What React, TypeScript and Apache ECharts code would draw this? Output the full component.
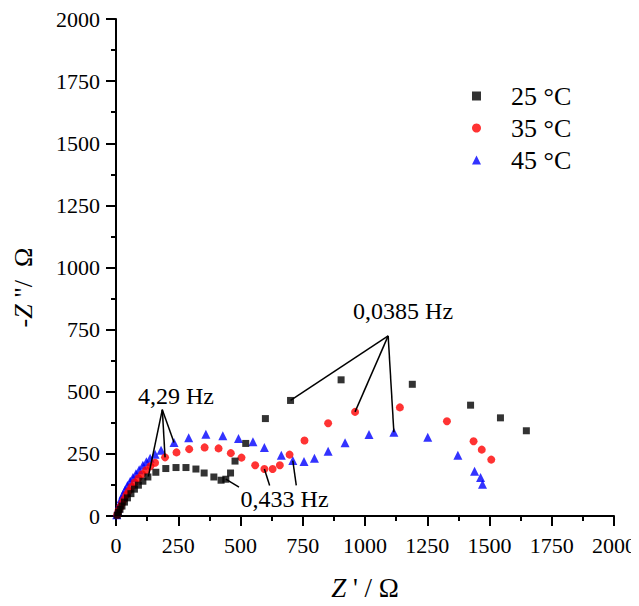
import React, { useEffect, useRef } from "react";
import * as echarts from "echarts";

const seriesNames = ["25 °C", "35 °C", "45 °C"];

const data25: [number, number][] = [
  [5, 3], [10, 14], [16, 27], [24, 40], [34, 56], [46, 73], [60, 90], [74, 108], [90, 124], [108, 140],
  [128, 157], [160, 176], [200, 191], [241, 195], [281, 195], [321, 189], [354, 173], [393, 157], [422, 144],
  [441, 148], [460, 173], [478, 221], [521, 292], [600, 392], [701, 465], [904, 548], [1190, 530], [1424, 446],
  [1544, 395], [1648, 343],
];

const data35: [number, number][] = [
  [5, 5], [10, 20], [17, 36], [25, 52], [33, 68], [42, 85], [51, 100], [62, 117], [75, 135], [90, 152],
  [105, 168], [121, 184], [138, 200], [157, 214], [197, 236], [243, 256], [294, 269], [356, 276], [412, 272],
  [461, 253], [504, 235], [559, 204], [596, 189], [629, 189], [658, 204], [697, 247], [757, 304], [852, 373],
  [960, 419], [1140, 437], [1329, 381], [1436, 301], [1469, 267], [1507, 227],
];

const data45: [number, number][] = [
  [3, 5], [6, 18], [10, 32], [15, 50], [21, 70], [28, 88], [37, 106], [46, 123], [57, 140], [68, 155],
  [80, 170], [93, 186], [108, 204], [122, 218], [137, 232], [157, 248], [181, 265], [233, 296], [292, 315],
  [361, 329], [429, 323], [492, 312], [550, 299], [596, 276], [664, 244], [710, 223], [755, 219], [797, 232],
  [852, 261], [920, 295], [1016, 328], [1116, 337], [1252, 317], [1373, 244], [1440, 180], [1464, 155],
  [1472, 128],
];

// annotation leader lines [from, to] in data units
const annotLines: [[number, number], [number, number]][] = [
  [[186, 428], [130, 159]],
  [[186, 428], [197, 236]],
  [[186, 428], [233, 296]],
  [[494, 116], [441, 148]],
  [[617, 123], [596, 189]],
  [[724, 123], [710, 223]],
  [[1093, 725], [701, 465]],
  [[1093, 725], [960, 419]],
  [[1093, 725], [1116, 337]],
];

const annotLabels: { name: string; coord: [number, number] }[] = [
  { name: "4,29 Hz", coord: [241, 484] },
  { name: "0,433 Hz", coord: [677, 68] },
  { name: "0,0385 Hz", coord: [1153, 824] },
];

const axisMin = 0;
const axisMax = 2000;
const axisStep = 250;

const FONT = "'Liberation Serif', 'Times New Roman', serif";

export default function App() {
  const ref = useRef<HTMLDivElement>(null);

  useEffect(() => {
    if (!ref.current) return;
    const chart = echarts.init(ref.current, undefined, { renderer: "svg" });

    const axisCommon = {
      min: axisMin,
      max: axisMax,
      interval: axisStep,
      axisLine: { show: true, onZero: false, lineStyle: { color: "#000", width: 2 } },
      axisTick: { show: true, inside: false, length: 10, lineStyle: { color: "#000", width: 2 } },
      minorTick: { show: true, splitNumber: 2, length: 5, lineStyle: { color: "#000", width: 2 } },
      splitLine: { show: false },
      minorSplitLine: { show: false },
    };

    const option: any = {
      animation: false,
      backgroundColor: "#fff",
      textStyle: { fontFamily: FONT },
      grid: { left: 116, right: 23, top: 19, bottom: 88, containLabel: false },
      legend: {
        data: seriesNames,
        orient: "vertical",
        left: 467,
        top: 78,
        itemWidth: 9,
        itemHeight: 9,
        itemGap: 6,
        textStyle: { fontFamily: FONT, fontSize: 26, color: "#000", lineHeight: 26, padding: [0, 0, 0, 25] },
      },
      xAxis: {
        type: "value",
        ...axisCommon,
        axisLabel: { fontFamily: FONT, fontSize: 22, color: "#000", margin: 18, formatter: (v: number) => String(v) },
        name: "{i|Z}{n| ' / Ω}",
        nameLocation: "middle",
        nameGap: 58,
        nameTextStyle: {
          rich: {
            i: { fontFamily: FONT, fontSize: 27, fontStyle: "italic", color: "#000" },
            n: { fontFamily: FONT, fontSize: 27, color: "#000" },
          },
        },
      },
      yAxis: {
        type: "value",
        ...axisCommon,
        axisLabel: { fontFamily: FONT, fontSize: 22, color: "#000", margin: 16, formatter: (v: number) => String(v) },
        name: "{n|-}{i|Z}{n| \"/  Ω}",
        nameLocation: "middle",
        nameGap: 80,
        nameTextStyle: {
          padding: [0, 40, 0, 0],
          rich: {
            i: { fontFamily: FONT, fontSize: 26, fontStyle: "italic", color: "#000" },
            n: { fontFamily: FONT, fontSize: 26, color: "#000" },
          },
        },
      },
      series: [
        {
          name: seriesNames[0],
          type: "scatter",
          symbol: "rect",
          symbolSize: 7,
          itemStyle: { color: "#000000" },
          data: data25,
          z: 3,
          markLine: {
            silent: true,
            symbol: ["none", "none"],
            label: { show: false },
            lineStyle: { color: "#000", width: 1.5, type: "solid" },
            data: annotLines.map(([a, b]) => [{ coord: a }, { coord: b }]),
          },
          markPoint: {
            silent: true,
            symbol: "circle",
            symbolSize: 0,
            label: {
              show: true,
              position: "inside",
              formatter: "{b}",
              fontFamily: FONT,
              fontSize: 24,
              color: "#000",
            },
            data: annotLabels.map((l) => ({ name: l.name, coord: l.coord })),
          },
        },
        {
          name: seriesNames[1],
          type: "scatter",
          symbol: "circle",
          symbolSize: 8,
          itemStyle: { color: "#ff0000" },
          data: data35,
          z: 2,
        },
        {
          name: seriesNames[2],
          type: "scatter",
          symbol: "triangle",
          symbolSize: 9,
          itemStyle: { color: "#0000ff" },
          data: data45,
          z: 1,
        },
      ],
    };

    chart.setOption(option);
    return () => chart.dispose();
  }, []);

  return <div ref={ref} style={{ width: 639, height: 606, margin: -8 }} />;
}
